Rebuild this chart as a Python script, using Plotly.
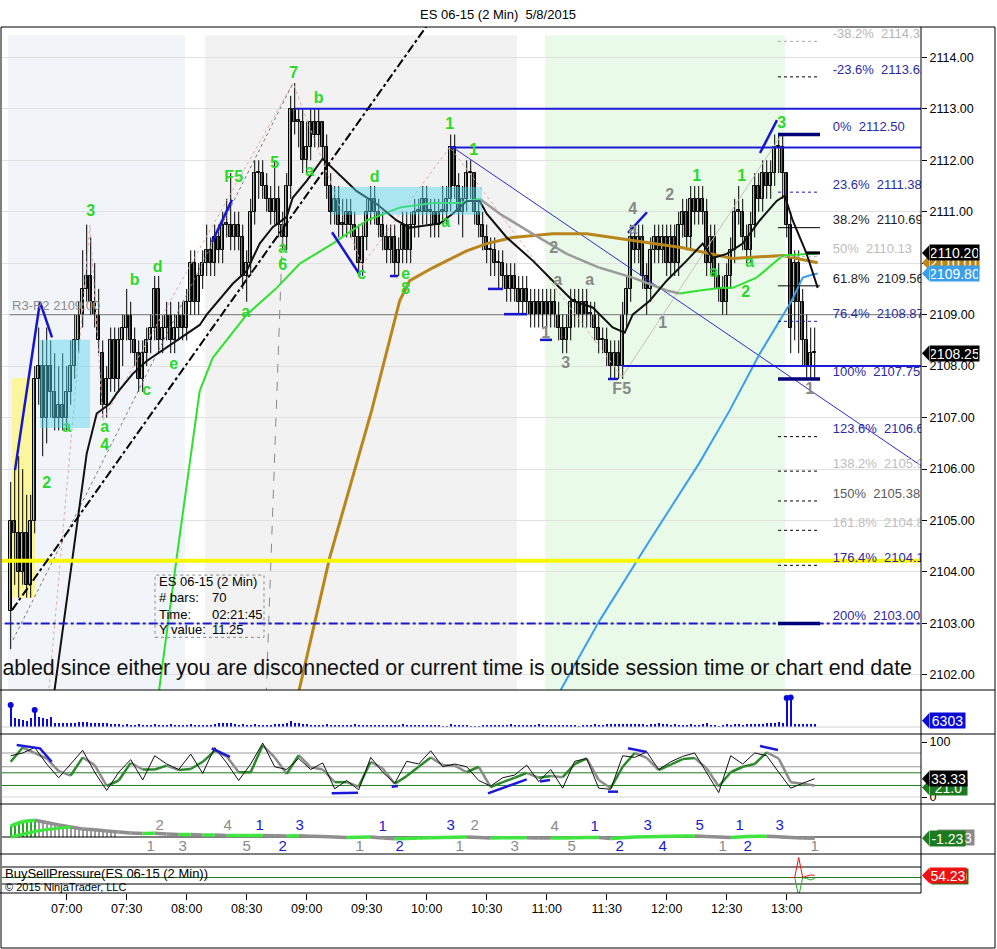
import pandas as pd
import plotly.graph_objects as go
from plotly.subplots import make_subplots

DAY = "2015-05-08 "
FONT = "Liberation Sans, Arial, sans-serif"
NB = "\u00a0"


def ts(s):
    return pd.Timestamp(DAY + s)


def tl(lst):
    return [ts(s) for s in lst]


# ---------------- 2 min bars, ES 06-15 ----------------
opens = [2103.25, 2105.00, 2104.75, 2104.00, 2104.75, 2103.75, 2105.00, 2107.75, 2108.00, 2107.00,
         2108.00, 2107.50, 2107.00, 2107.25, 2107.00, 2107.50, 2108.00, 2108.50, 2109.00, 2109.50,
         2109.75, 2109.25, 2109.00, 2108.25, 2107.25, 2107.75, 2108.50, 2107.75, 2108.50, 2108.75,
         2109.00, 2108.50, 2108.25, 2107.75, 2108.25, 2108.50, 2108.75, 2109.50, 2108.50, 2108.75,
         2109.00, 2108.50, 2108.75, 2109.00, 2108.75, 2109.25, 2110.00, 2109.25, 2109.75, 2110.00,
         2110.25, 2110.00, 2110.50, 2110.25, 2110.75, 2110.75, 2110.50, 2110.75, 2110.50, 2109.75,
         2110.00, 2111.00, 2111.75, 2111.75, 2111.50, 2111.25, 2111.00, 2111.25, 2110.75, 2110.50,
         2111.50, 2113.00, 2112.75, 2112.75, 2112.00, 2112.25, 2112.75, 2112.50, 2112.75, 2112.25,
         2111.50, 2111.00, 2111.25, 2110.75, 2110.75, 2111.00, 2110.75, 2110.50, 2110.00, 2110.50,
         2111.00, 2111.25, 2111.00, 2110.75, 2110.50, 2110.25, 2110.50, 2110.00, 2110.25, 2110.75,
         2110.25, 2110.75, 2111.00, 2111.00, 2111.25, 2111.00, 2111.00, 2110.75, 2111.00, 2111.00,
         2111.25, 2112.25, 2111.50, 2111.00, 2111.25, 2111.75, 2111.75, 2111.00, 2110.75, 2110.50,
         2110.25, 2110.25, 2110.00, 2110.00, 2109.75, 2109.50, 2109.75, 2109.50, 2109.25, 2109.50,
         2109.25, 2109.00, 2109.25, 2109.00, 2109.25, 2109.00, 2109.25, 2109.00, 2108.75, 2108.50,
         2108.75, 2109.25, 2109.25, 2109.00, 2109.25, 2109.00, 2109.00, 2108.75, 2108.50, 2108.50,
         2108.25, 2108.00, 2108.25, 2108.00, 2109.00, 2109.50, 2110.50, 2110.25, 2110.50, 2109.75,
         2109.50, 2110.25, 2110.50, 2110.25, 2110.50, 2110.00, 2110.50, 2110.00, 2110.75, 2111.00,
         2110.50, 2111.25, 2111.00, 2111.25, 2111.00, 2110.00, 2110.50, 2109.75, 2109.50, 2109.25,
         2109.75, 2110.25, 2111.00, 2111.00, 2110.50, 2110.25, 2110.75, 2111.50, 2111.25, 2111.75,
         2111.50, 2111.75, 2112.25, 2112.25, 2111.75, 2110.75, 2109.25, 2110.00, 2109.25, 2108.50,
         2108.00, 2108.25]
highs = [2105.75, 2106.00, 2106.25, 2106.00, 2105.50, 2105.50, 2108.00, 2108.75, 2108.50, 2108.75,
         2108.50, 2108.25, 2108.00, 2108.25, 2108.00, 2108.50, 2109.00, 2109.25, 2110.25, 2110.75,
         2110.50, 2110.00, 2109.50, 2108.50, 2108.00, 2108.75, 2108.75, 2108.75, 2109.00, 2109.50,
         2109.25, 2108.75, 2108.50, 2108.50, 2108.75, 2109.00, 2109.75, 2109.75, 2109.00, 2109.25,
         2109.25, 2109.00, 2109.25, 2109.25, 2109.50, 2110.25, 2110.25, 2110.00, 2110.25, 2110.75,
         2110.50, 2110.75, 2110.75, 2111.00, 2111.25, 2111.75, 2111.00, 2111.00, 2110.75, 2110.25,
         2111.25, 2112.00, 2112.00, 2112.00, 2111.75, 2111.50, 2112.00, 2111.50, 2111.00, 2111.75,
         2113.25, 2113.50, 2113.00, 2113.00, 2112.75, 2113.00, 2113.00, 2113.00, 2112.75, 2112.50,
         2111.75, 2111.50, 2111.50, 2111.25, 2111.25, 2111.25, 2111.00, 2110.75, 2110.75, 2111.25,
         2111.50, 2111.50, 2111.25, 2111.00, 2110.75, 2110.75, 2110.75, 2110.50, 2111.00, 2111.00,
         2111.00, 2111.25, 2111.25, 2111.50, 2111.50, 2111.25, 2111.25, 2111.25, 2111.50, 2111.50,
         2112.50, 2112.50, 2111.75, 2111.50, 2112.00, 2112.00, 2111.75, 2111.25, 2111.00, 2110.75,
         2110.50, 2110.50, 2110.25, 2110.25, 2110.00, 2110.00, 2110.00, 2109.75, 2109.75, 2109.75,
         2109.50, 2109.50, 2109.50, 2109.50, 2109.50, 2109.50, 2109.50, 2109.25, 2109.00, 2109.00,
         2109.50, 2109.50, 2109.50, 2109.50, 2109.50, 2109.25, 2109.25, 2109.00, 2108.75, 2108.75,
         2108.50, 2108.50, 2108.50, 2109.25, 2109.75, 2110.75, 2110.75, 2110.75, 2110.75, 2110.00,
         2110.50, 2110.75, 2110.75, 2110.75, 2110.75, 2110.75, 2110.75, 2111.00, 2111.25, 2111.25,
         2111.50, 2111.50, 2111.50, 2111.50, 2111.25, 2110.75, 2110.75, 2110.00, 2109.75, 2110.00,
         2110.50, 2111.25, 2111.50, 2111.25, 2110.75, 2111.00, 2111.75, 2111.75, 2112.00, 2112.00,
         2112.00, 2112.50, 2112.50, 2112.50, 2111.75, 2111.00, 2110.25, 2110.25, 2109.50, 2109.00,
         2108.75, 2108.75]
lows = [2102.50, 2103.75, 2103.50, 2103.75, 2103.50, 2103.50, 2104.75, 2107.25, 2106.25, 2106.50,
        2107.00, 2106.75, 2106.75, 2106.75, 2106.75, 2107.25, 2107.75, 2108.25, 2108.75, 2109.25,
        2109.00, 2108.75, 2108.25, 2107.00, 2107.00, 2107.50, 2107.50, 2107.50, 2108.00, 2108.50,
        2108.25, 2108.00, 2107.50, 2107.50, 2108.00, 2108.25, 2108.50, 2108.25, 2108.25, 2108.50,
        2108.25, 2108.25, 2108.50, 2108.50, 2108.50, 2109.00, 2109.00, 2109.00, 2109.50, 2109.75,
        2109.75, 2109.75, 2110.00, 2110.00, 2110.50, 2110.25, 2110.25, 2110.25, 2109.50, 2109.25,
        2109.75, 2110.75, 2111.25, 2111.25, 2111.00, 2110.75, 2110.75, 2110.50, 2110.25, 2110.25,
        2111.25, 2112.50, 2112.25, 2111.75, 2111.75, 2112.00, 2112.25, 2112.25, 2112.00, 2111.25,
        2110.75, 2110.75, 2110.50, 2110.50, 2110.50, 2110.50, 2110.25, 2109.75, 2109.75, 2110.25,
        2110.75, 2110.75, 2110.50, 2110.25, 2110.00, 2110.00, 2109.75, 2109.75, 2110.00, 2110.00,
        2110.00, 2110.50, 2110.50, 2110.75, 2110.75, 2110.50, 2110.50, 2110.50, 2110.75, 2110.75,
        2111.00, 2111.25, 2110.75, 2110.50, 2111.00, 2111.25, 2110.75, 2110.50, 2110.25, 2110.00,
        2109.75, 2109.75, 2109.50, 2109.50, 2109.25, 2109.25, 2109.25, 2109.00, 2109.00, 2109.00,
        2108.75, 2108.75, 2108.75, 2108.75, 2108.75, 2108.75, 2108.75, 2108.50, 2108.25, 2108.25,
        2108.50, 2108.75, 2108.75, 2108.75, 2108.75, 2108.75, 2108.50, 2108.25, 2108.25, 2108.00,
        2107.75, 2107.75, 2107.75, 2107.75, 2108.75, 2109.25, 2110.00, 2110.00, 2109.50, 2109.00,
        2109.25, 2110.00, 2110.00, 2110.00, 2109.75, 2109.75, 2109.75, 2109.75, 2110.50, 2110.25,
        2110.25, 2110.75, 2110.75, 2110.75, 2109.75, 2109.75, 2109.50, 2109.25, 2109.00, 2109.00,
        2109.50, 2110.00, 2110.75, 2110.25, 2110.00, 2110.00, 2110.50, 2111.00, 2111.00, 2111.25,
        2111.25, 2111.50, 2111.75, 2111.25, 2110.50, 2108.25, 2108.50, 2108.25, 2108.00, 2107.75,
        2107.75, 2107.75]
closes = [2105.00, 2104.75, 2104.00, 2104.75, 2103.75, 2105.00, 2107.75, 2108.00, 2107.00, 2108.00,
          2107.50, 2107.00, 2107.25, 2107.00, 2107.50, 2108.00, 2108.50, 2109.00, 2109.50, 2109.75,
          2109.25, 2109.00, 2108.50, 2107.25, 2107.75, 2108.50, 2107.75, 2108.50, 2108.75, 2109.00,
          2108.50, 2108.25, 2107.75, 2108.25, 2108.50, 2108.75, 2109.50, 2108.50, 2108.75, 2109.00,
          2108.50, 2108.75, 2109.00, 2108.75, 2109.25, 2110.00, 2109.25, 2109.75, 2110.00, 2110.25,
          2110.00, 2110.50, 2110.25, 2110.75, 2110.75, 2110.50, 2110.75, 2110.50, 2109.75, 2110.00,
          2111.00, 2111.75, 2111.75, 2111.50, 2111.25, 2111.00, 2111.25, 2110.75, 2110.50, 2111.50,
          2113.00, 2112.75, 2112.75, 2112.00, 2112.25, 2112.75, 2112.50, 2112.75, 2112.25, 2111.50,
          2111.00, 2111.25, 2110.75, 2110.75, 2111.00, 2110.75, 2110.50, 2110.00, 2110.50, 2111.00,
          2111.25, 2111.00, 2110.75, 2110.50, 2110.25, 2110.50, 2110.00, 2110.25, 2110.75, 2110.25,
          2110.75, 2111.00, 2111.00, 2111.25, 2111.00, 2111.00, 2110.75, 2111.00, 2111.00, 2111.25,
          2112.25, 2111.50, 2111.00, 2111.25, 2111.75, 2111.75, 2111.00, 2110.75, 2110.50, 2110.25,
          2110.25, 2110.00, 2110.00, 2109.75, 2109.50, 2109.75, 2109.50, 2109.25, 2109.50, 2109.25,
          2109.00, 2109.25, 2109.00, 2109.25, 2109.00, 2109.25, 2109.00, 2108.75, 2108.50, 2108.75,
          2109.25, 2109.25, 2109.00, 2109.25, 2109.00, 2109.00, 2108.75, 2108.50, 2108.50, 2108.25,
          2108.00, 2108.25, 2108.00, 2109.00, 2109.50, 2110.50, 2110.25, 2110.50, 2109.75, 2109.50,
          2110.25, 2110.50, 2110.25, 2110.50, 2110.00, 2110.50, 2110.00, 2110.75, 2111.00, 2110.50,
          2111.25, 2111.00, 2111.25, 2111.00, 2110.00, 2110.50, 2109.75, 2109.50, 2109.25, 2109.75,
          2110.25, 2111.00, 2111.00, 2110.50, 2110.25, 2110.75, 2111.50, 2111.25, 2111.75, 2111.50,
          2111.75, 2112.25, 2112.25, 2111.75, 2110.75, 2108.75, 2110.00, 2109.25, 2108.50, 2108.00,
          2108.25, 2108.25]
volumes = [22000, 8700, 7700, 7000, 6300, 8700, 17000, 10300, 8700, 7700,
           9700, 4300, 4000, 4300, 4000, 4300, 4000, 5300, 5000, 5300,
           4300, 4300, 4000, 4300, 4000, 3000, 2700, 3000, 2500, 2700,
           2300, 2500, 2700, 2300, 2500, 2300, 2700, 2300, 2500, 2300,
           2700, 2300, 2500, 2300, 2300, 2700, 2300, 2500, 2300, 2500,
           2300, 2700, 4000, 4300, 3700, 4000, 2700, 2500, 3000, 2300,
           2500, 2700, 2300, 2500, 2300, 2500, 2700, 3000, 3300, 4300,
           6000, 4300, 4000, 3000, 2700, 2500, 2300, 2500, 2300, 2700,
           2300, 2500, 2300, 2300, 2500, 2300, 2700, 2300, 2500, 2300,
           2300, 2500, 2300, 2300, 2500, 2300, 2300, 2500, 2700, 2300,
           2300, 2500, 2300, 2500, 2300, 2300, 2500, 2300, 1000, 1000,
           3000, 2500, 2300, 2300, 2500, 1000, 1000, 1000, 2500, 2300,
           2300, 2500, 2300, 2300, 2500, 2700, 2300, 2500, 2300, 2500,
           2300, 2300, 2700, 2300, 2500, 2300, 2300, 2500, 2300, 2300,
           2500, 2300, 1000, 2500, 2300, 2300, 2700, 2500, 2300, 3000,
           3300, 2700, 3000, 3300, 3000, 3300, 2700, 3000, 2700, 2500,
           3000, 2700, 4300, 3000, 2700, 2500, 2700, 2300, 2500, 2300,
           2700, 2500, 2300, 3000, 4300, 2500, 2300, 1000, 2500, 2700,
           2300, 3000, 2700, 2500, 3000, 2700, 3300, 3000, 3300, 4300,
           4000, 4300, 5300, 4300, 29000, 29500, 3300, 2700, 3000, 2700,
           3000, 2700]
bar_times = pd.date_range(DAY + "06:32", periods=len(closes), freq="2min")

# ---------------- moving averages ----------------
black_ma_t = ["06:52:30", "07:05", "07:10", "07:15", "07:21:30", "07:25", "07:33", "07:40", "07:53", "08:06:30",
              "08:10", "08:23", "08:30", "08:36:30", "08:43", "08:50", "08:53", "09:00", "09:08", "09:18",
              "09:25", "09:35", "09:45", "09:51:30", "10:06:30", "10:13", "10:20", "10:26:30", "10:30", "10:40",
              "10:53", "11:03", "11:13", "11:23", "11:33", "11:39", "11:43", "11:51:30", "12:00", "12:10",
              "12:18", "12:23", "12:30", "12:38", "12:46:30", "12:55", "12:59", "13:03", "13:10", "13:15:30"]
black_ma_v = [2101.3, 2104.86, 2106.3, 2107.08, 2107.27, 2107.47, 2107.85, 2108.1, 2108.44, 2108.8,
              2109.0, 2109.6, 2109.85, 2110.38, 2110.7, 2110.9, 2111.27, 2111.6, 2112.03, 2111.66,
              2111.4, 2111.15, 2110.83, 2110.69, 2110.77, 2110.96, 2111.21, 2111.21, 2110.96, 2110.5,
              2110.05, 2109.66, 2109.27, 2109.14, 2108.75, 2108.65, 2109.0, 2109.27, 2109.66, 2110.05,
              2110.38, 2110.1, 2110.18, 2110.38, 2110.83, 2111.21, 2111.31, 2110.83, 2110.18, 2109.52]
green_ma_t = ["07:45:30", "07:55", "08:06:30", "08:13", "08:30", "08:45", "08:56:30", "09:13", "09:30",
              "09:46:30", "10:03", "10:16:30", "10:26:30", "10:36:30", "10:53", "11:10", "11:26:30", "11:43",
              "12:00", "12:06:30", "12:16:30", "12:26:30", "12:33", "12:45", "12:58", "13:10", "13:15:30"]
green_ma_v = [2101.5, 2104.28, 2107.52, 2108.16, 2109.0, 2109.52, 2109.99, 2110.38, 2110.83,
              2111.08, 2111.17, 2111.17, 2111.25, 2110.96, 2110.57, 2110.18, 2109.91, 2109.72,
              2109.47, 2109.41, 2109.47, 2109.52, 2109.52, 2109.72, 2110.15, 2110.18, 2110.18]
brown_ma_t = ["08:55", "09:11:30", "09:32:30", "09:46:30", "09:51:30", "10:03", "10:20", "10:30",
              "10:43", "11:03", "11:20", "11:43", "12:08", "12:33", "12:58", "13:15:30"]
brown_ma_v = [2101.5, 2104.28, 2107.14, 2109.27, 2109.66, 2109.91, 2110.24, 2110.38,
              2110.5, 2110.57, 2110.57, 2110.44, 2110.3, 2110.09, 2110.15, 2110.01]
blue_ma_t = ["11:04", "11:26:30", "11:51:30", "12:16:30", "12:31:30", "12:46:30", "13:02:30", "13:08", "13:13", "13:15:30"]
blue_ma_v = [2101.5, 2103.06, 2104.61, 2106.13, 2107.14, 2108.24, 2109.27, 2109.72, 2109.78, 2109.80]

# ---------------- levels ----------------
r3r2_level = 2109.00
yellow_level = 2104.22
dashdot_level = 2103.00
blue_levels = [2113.00, 2112.25, 2108.00]
blue_level_start = ["08:54", "10:11:39", "11:37:39"]
marker_level = 2110.20

fib_pct = ["-38.2%", "-23.6%", "0%", "23.6%", "38.2%", "50%", "61.8%", "76.4%",
           "100%", "123.6%", "138.2%", "150%", "161.8%", "176.4%", "200%"]
fib_price = [2114.31, 2113.62, 2112.50, 2111.38, 2110.69, 2110.13, 2109.56, 2108.87,
             2107.75, 2106.63, 2105.96, 2105.38, 2104.81, 2104.13, 2103.00]

# swing / drawing objects (time, price)
trend_dashdot_t = ["06:32:39", "10:01:39"]
trend_dashdot_p = [2103.26, 2114.70]
trend_blue_t = ["10:12:39", "14:10"]
trend_blue_p = [2112.26, 2105.99]
zigzag_t = ["06:50:39", "07:11:39", "07:18:09", "08:53:09", "09:27:39", "10:11:39", "11:37:39"]
zigzag_p = [2101.51, 2110.74, 2106.95, 2113.50, 2109.96, 2112.26, 2107.79]
gray_leg_t = ["11:37:39", "12:57:39"]
gray_leg_p = [2107.79, 2112.51]
gray_ray_t = ["06:33:09", "08:53:09"]
gray_ray_p = [2102.68, 2113.50]
gray_drop_t = ["08:48:09", "08:39:39"]
gray_drop_p = [2110.84, 2101.51]
swing_segs = [
    (["06:34:09", "06:46:39", "06:52:39"], [2105.98, 2109.25, 2108.56]),
    (["08:12:39", "08:22:39"], [2110.41, 2111.23]),
    (["09:12:39", "09:26:39"], [2110.60, 2109.77]),
    (["11:40:39", "11:50:09"], [2110.59, 2110.99]),
    (["12:46:39", "12:55:09"], [2112.14, 2112.78]),
]
swing_dashes = [
    (["09:41:39", "09:45:39"], 2109.75),
    (["10:30:39", "10:38:09"], 2109.50),
    (["10:38:39", "10:50:09"], 2109.01),
    (["10:56:39", "11:02:39"], 2108.51),
    (["11:30:39", "11:35:39"], 2107.75),
]

green_lab_text = ["3", "2", "a", "a", "4", "b", "c", "d", "e", "F5",
                  "a", "5", "a", "6", "7", "b", "a", "d", "c", "e",
                  "8", "1", "1", "a", "1", "1", "a", "a", "2", "3"]
green_lab_t = ["07:12", "06:50", "07:00", "07:19", "07:19", "07:34", "07:40", "07:45:30", "07:53:30", "08:23:30",
               "08:29:30", "08:44", "08:48", "08:48", "08:53:30", "09:06", "09:01:30", "09:34", "09:27:30", "09:49:30",
               "09:49:30", "10:11:30", "10:23:30", "10:09:30", "12:15", "12:37:30", "12:23:30", "12:41:30", "12:39:30", "12:57:30"]
green_lab_p = [2111.0, 2105.7, 2106.8, 2106.8, 2106.45, 2109.65, 2107.52, 2109.9, 2108.03, 2111.66,
               2109.04, 2111.93, 2110.28, 2109.95, 2113.68, 2113.19, 2111.78, 2111.66, 2109.78, 2109.78,
               2109.47, 2112.69, 2112.18, 2110.79, 2111.68, 2111.68, 2109.8, 2110.01, 2109.43, 2112.71]
gray_lab_text = ["2", "a", "a", "1", "3", "F5", "4", "a", "2", "1", "1"]
gray_lab_t = ["11:03:30", "11:05:30", "11:21:30", "10:59:30", "11:09:30", "11:37:30", "11:43", "11:43", "12:01:30", "11:58", "13:11:30"]
gray_lab_p = [2110.28, 2109.66, 2109.66, 2108.63, 2108.05, 2107.54, 2111.04, 2110.65, 2111.31, 2108.81, 2107.54]

# ---------------- stochastics (every 3rd bar) ----------------
stoch_d = [64, 90, 80, 70, 47, 39, 72, 58, 20, 30,
           62, 50, 50, 57, 49, 51, 64, 84, 74, 45,
           45, 94, 72, 42, 76, 54, 50, 27, 27, 19,
           64, 52, 24, 38, 55, 72, 58, 57, 45, 55,
           18, 27, 35, 44, 35, 38, 36, 60, 70, 31,
           16, 55, 80, 71, 49, 59, 69, 71, 52, 19,
           45, 55, 60, 81, 70, 27, 24, 21.04]
stoch_k = [75, 80, 90, 60, 35, 60, 85, 45, 12, 45,
           68, 31, 75, 60, 50, 78, 43, 90, 62, 30,
           60, 98, 55, 50, 70, 50, 62, 15, 30, 13,
           72, 45, 25, 65, 60, 84, 55, 60, 55, 30,
           20, 35, 40, 58, 28, 50, 16, 65, 70, 16,
           14, 75, 72, 82, 50, 64, 74, 80, 45, 8,
           75, 60, 80, 75, 45, 16, 25, 33.33]
stoch_times = pd.date_range(DAY + "06:32", periods=len(stoch_d), freq="6min")
stoch_levels_gray = [80, 55]
stoch_levels_green = [44, 21]
stoch_div = [
    (["06:35", "06:46:39", "06:52:30"], [94.5, 88.5, 64]),
    (["08:12:30", "08:21:39"], [88.5, 73]),
    (["09:12:30", "09:25:39"], [6.7, 7.9]),
    (["09:42:30", "09:45:39"], [18.8, 20]),
    (["10:30:39", "10:50"], [6.7, 32]),
    (["10:56:39", "11:01:39"], [28, 31]),
    (["11:30:39", "11:35:39"], [9.7, 9.7]),
    (["11:40:39", "11:50"], [88.5, 82]),
    (["12:46:39", "12:55:39"], [92.7, 85.5]),
]

# ---------------- oscillator panel ----------------
osc_line = [11, 15.5, 16.8, 14.5, 12, 10, 8, 7.2, 6, 5,
            4, 3.5, 3.8, 3, 2.5, 2.5, 2, 2, 1.5, 1.5,
            1.5, 1.5, 1.3, 1.0, 1.3, 0.8, 0.5, 0, -0.5, -0.3,
            -0.1, -1.0, -1.7, -1.5, -1, -0.7, -0.5, -0.3, 0, -0.5,
            -1, -0.8, -0.7, -0.7, -0.9, -1, -0.9, -0.7, -0.5, -0.4,
            -1.4, -0.8, 0, 0.3, 0.5, 0.7, 1, 1, 0.5, 0,
            -0.5, 0.3, 0.7, 0.8, 0.3, -0.5, -1, -1.23]
osc_green_early = [0, 3, 5.5, 7.5, 9, 10]
osc_hist = [11, 12.5, 14, 15.5, 16, 16.5, 16.8, 16.5, 16, 14.5, 13.5, 12.8, 12,
            11.3, 10.6, 10, 9.3, 8.6, 8, 7.7, 7.4, 7.2, 6.8, 6.4, 6, 5.7, 5.4]
osc_blue_text = ["1", "3", "1", "3", "1", "3", "5", "1", "3", "2", "2", "2", "4", "2"]
osc_blue_t = ["08:36:30", "08:56:30", "09:38", "10:12", "11:24", "11:50:30", "12:16:30", "12:36:30", "12:56:30",
              "08:48", "09:46:30", "11:36:30", "11:58", "12:40:30"]
osc_blue_v = [11, 11, 10, 11, 10, 11, 11, 11, 11, -10, -10, -10, -10, -10]
osc_gray_text = ["2", "4", "2", "4", "1", "3", "5", "1", "1", "3", "5", "1", "1"]
osc_gray_t = ["07:46:30", "08:20:30", "10:24", "11:04", "07:42", "07:58", "08:30", "09:26:30", "10:16:30",
              "10:44", "11:12:30", "12:28", "13:14"]
osc_gray_v = [11, 11, 11, 10, -10, -10, -10, -10, -10, -10, -10, -10, -10]

# ---------------- buy/sell pressure ----------------
bsp_t = ["13:02", "13:04", "13:06", "13:08", "13:10", "13:12", "13:14"]
bsp_buy = [50, 50, 12, 50, 48, 45, 48]
bsp_sell = [50, 50, 90, 50, 53, 55, 54.23]

# ---------------- layout geometry ----------------
L, T, PW, PH = 2, 27, 919, 866
HEIGHTS = [663, 44, 70, 50, 39]
DOM, acc = {}, 0
for r in range(5, 0, -1):
    DOM[r] = (acc / PH, (acc + HEIGHTS[r - 1]) / PH)
    acc += HEIGHTS[r - 1]
RNG = {1: (2101.707, 2114.589), 2: (-7000, 37000), 3: (-12.73, 114.55), 4: (-17, 33), 5: (19, 97)}
XR = [ts("06:27:39"), ts("14:07:09")]
XEND = ts("14:10")


def pxx(p):
    return (p - L) / PW


def pxy(p):
    return (T + PH - p) / PH


def val_py(v, row):
    d, r = DOM[row], RNG[row]
    frac = d[0] + (v - r[0]) / (r[1] - r[0]) * (d[1] - d[0])
    return T + PH * (1 - frac)


def split_slope(xs, ys):
    ux, uy, dx, dy = [], [], [], []
    for a in range(len(xs) - 1):
        if ys[a + 1] >= ys[a]:
            ux += [xs[a], xs[a + 1], None]
            uy += [ys[a], ys[a + 1], None]
        else:
            dx += [xs[a], xs[a + 1], None]
            dy += [ys[a], ys[a + 1], None]
    return ux, uy, dx, dy


fig = make_subplots(rows=5, cols=1, shared_xaxes=True, vertical_spacing=0, row_heights=HEIGHTS)


def line(x, y, color, width=1, dash="solid", row=1):
    fig.add_trace(go.Scatter(x=x, y=y, mode="lines", line=dict(color=color, width=width, dash=dash),
                             hoverinfo="skip"), row=row, col=1)


# gray R3-R2 level behind candles
line([ts("06:31:30"), XEND], [r3r2_level] * 2, "#8c8c8c", 1.2)

# candles: wicks, then bodies as floating bars
wx, wy = [], []
for t, h, lo in zip(bar_times, highs, lows):
    wx += [t, t, None]
    wy += [lo, h, None]
line(wx, wy, "#000000", 1)
for up, fill in [(True, "#9ade9a"), (False, "#737373")]:
    sel = [a for a in range(len(closes)) if (closes[a] > opens[a]) == up]
    fig.add_trace(go.Bar(
        x=[bar_times[a] for a in sel],
        y=[max(abs(closes[a] - opens[a]), 0.03) for a in sel],
        base=[min(opens[a], closes[a]) for a in sel],
        width=96000, marker=dict(color=fill, line=dict(color="#000000", width=1)),
        hoverinfo="skip"), row=1, col=1)

# thin zig-zag drawings
line(tl(zigzag_t), zigzag_p, "#e3a9a9", 1, "dot")
line(tl(gray_leg_t), gray_leg_p, "#c8bfb5", 1)
line(tl(gray_ray_t), gray_ray_p, "#777777", 1, "dot")
line(tl(gray_drop_t), gray_drop_p, "#8a8a8a", 1, "dash")
line(tl(trend_blue_t), trend_blue_p, "#2b2bd0", 1)

# moving averages
line(tl(blue_ma_t), blue_ma_v, "#3a9ee8", 2)
line(tl(brown_ma_t), brown_ma_v, "#b8861b", 3)
gx, gy, dx_, dy_ = split_slope(tl(green_ma_t), green_ma_v)
line(dx_, dy_, "#9a9a9a", 2.5)
line(gx, gy, "#2fe02f", 2)
line(tl(black_ma_t), black_ma_v, "#111111", 2)

# horizontal levels
for lv, st in zip(blue_levels, blue_level_start):
    line([ts(st), XEND], [lv, lv], "#1c1cd8", 2)
line([ts("06:20"), XEND], [yellow_level] * 2, "#f7f700", 4)
line([ts("06:20"), XEND], [dashdot_level] * 2, "#1a1ac8", 2, "dashdot")
line(tl(trend_dashdot_t), trend_dashdot_p, "#000000", 2, "dashdot")

for st, pp in swing_segs:
    line(tl(st), pp, "#1616d0", 2.5)
for st, lv in swing_dashes:
    line(tl(st), [lv, lv], "#1616d0", 2.5)

# fibonacci segments + labels
fib_x = [ts("12:55:39"), ts("13:16:39")]
seg_style = {"0%": ("#00007a", 3.5, "solid"), "100%": ("#00007a", 3.5, "solid"), "200%": ("#00007a", 3.5, "solid"),
             "38.2%": ("#000000", 1, "solid"), "61.8%": ("#000000", 1, "solid"),
             "23.6%": ("#1a1aa0", 1, "dot"), "76.4%": ("#1a1aa0", 1, "dot"),
             "-38.2%": ("#aaaaaa", 1, "dot"), "50%": ("#bbbbbb", 1, "dot")}
txt_col = {"-38.2%": "#b5b5b5", "50%": "#bdbdbd", "138.2%": "#bdbdbd", "161.8%": "#bdbdbd",
           "38.2%": "#1e1e1e", "61.8%": "#1e1e1e", "150%": "#5a5a5a"}
for pc, pr in zip(fib_pct, fib_price):
    c, w, d = seg_style.get(pc, ("#000000", 1, "dot"))
    line(fib_x, [pr, pr], c, w, d)
line([ts("13:10"), ts("13:16:39")], [marker_level] * 2, "#000000", 3)
fig.add_trace(go.Scatter(
    x=[ts("13:23")] * len(fib_pct), y=fib_price, mode="text",
    text=[f"{pc}{NB}{NB}{pr:.2f}" for pc, pr in zip(fib_pct, fib_price)],
    textposition="top right", cliponaxis=True, hoverinfo="skip",
    textfont=dict(family=FONT, size=13, color=[txt_col.get(pc, "#2a2aa0") for pc in fib_pct])), row=1, col=1)

# wave labels
fig.add_trace(go.Scatter(x=tl(green_lab_t), y=green_lab_p, mode="text", text=green_lab_text,
                         textfont=dict(family=FONT, size=16, color="#2bd92b"), hoverinfo="skip",
                         texttemplate="<b>%{text}</b>"), row=1, col=1)
fig.add_trace(go.Scatter(x=tl(gray_lab_t), y=gray_lab_p, mode="text", text=gray_lab_text,
                         textfont=dict(family=FONT, size=16, color="#888888"), hoverinfo="skip",
                         texttemplate="<b>%{text}</b>"), row=1, col=1)
fig.add_trace(go.Scatter(x=[ts("06:32:39")], y=[2109.16], mode="text", text=["R3-R2 2109.00"],
                         textposition="middle right", hoverinfo="skip",
                         textfont=dict(family=FONT, size=13, color="#8c8c8c")), row=1, col=1)
fig.add_trace(go.Scatter(
    x=[ts("14:02:39")], y=[2102.11], mode="text", cliponaxis=True, hoverinfo="skip",
    text=["Order entry is disabled since either you are disconnected or current time is outside session time or chart end date"],
    textposition="middle left", textfont=dict(family=FONT, size=21.4, color="#111111")), row=1, col=1)

# ---------------- volume ----------------
line([XR[0], XEND], [0, 0], "#d0d0d0", 1, row=2)
fig.add_trace(go.Bar(x=bar_times, y=volumes, marker_color="#0a0ad8", marker_line_width=0,
                     width=40000, hoverinfo="skip"), row=2, col=1)
big = [(t, v) for t, v in zip(bar_times, volumes) if v > 15000]
fig.add_trace(go.Scatter(x=[b[0] for b in big], y=[b[1] for b in big], mode="markers",
                         marker=dict(color="#0a0ad8", size=6), hoverinfo="skip"), row=2, col=1)

# ---------------- stochastics ----------------
for lv in stoch_levels_gray:
    line([XR[0], XEND], [lv, lv], "#9a9a9a", 1, row=3)
for lv in stoch_levels_green:
    line([XR[0], XEND], [lv, lv], "#1e7a1e", 1, row=3)
line([XR[0], XEND], [0, 0], "#d4d4d4", 1, row=3)
ux, uy, dx2, dy2 = split_slope(list(stoch_times), stoch_d)
line(dx2, dy2, "#8c8c8c", 2.5, row=3)
line(ux, uy, "#2a8a2a", 2.5, row=3)
line(list(stoch_times), stoch_k, "#111111", 1, row=3)
for st, vv in stoch_div:
    line(tl(st), vv, "#1a1ad8", 2.5, row=3)

# ---------------- oscillator ----------------
line([XR[0], XEND], [0, 0], "#000000", 1, row=4)
hist_t = bar_times[:len(osc_hist)]
fig.add_trace(go.Bar(x=hist_t, y=osc_hist, width=40000, marker_line_width=0, hoverinfo="skip",
                     marker_color=["#27a827" if a < 7 else "#9a9a9a" for a in range(len(osc_hist))]),
              row=4, col=1)
ux, uy, dx3, dy3 = split_slope(list(stoch_times), osc_line)
line(dx3, dy3, "#8e8e8e", 3.5, row=4)
line(ux, uy, "#3ce63c", 3.5, row=4)
line(list(stoch_times[:len(osc_green_early)]), osc_green_early, "#3ce63c", 3, row=4)
fig.add_trace(go.Scatter(x=tl(osc_blue_t), y=osc_blue_v, mode="text", text=osc_blue_text, cliponaxis=True,
                         textfont=dict(family=FONT, size=15, color="#1a1acc"), hoverinfo="skip"), row=4, col=1)
fig.add_trace(go.Scatter(x=tl(osc_gray_t), y=osc_gray_v, mode="text", text=osc_gray_text, cliponaxis=True,
                         textfont=dict(family=FONT, size=15, color="#8a8a8a"), hoverinfo="skip"), row=4, col=1)

# ---------------- buy / sell pressure ----------------
for lv, c in [(71, "#000000"), (37, "#000000"), (50, "#1e7a1e")]:
    line([XR[0], XEND], [lv, lv], c, 1, row=5)
line(tl(bsp_t), bsp_buy, "#22aa22", 1, row=5)
line(tl(bsp_t), bsp_sell, "#ee1111", 1, row=5)

# ---------------- shapes ----------------
shapes = []
for a, b, col in [("06:30:39", "07:59:09", "#f1f4f9"), ("08:09:09", "10:45:09", "#f2f2f2"),
                  ("10:59:09", "12:59:09", "#e9fae9")]:
    shapes.append(dict(type="rect", xref="x", yref="y", x0=ts(a), x1=ts(b), y0=RNG[1][0], y1=2114.43,
                       fillcolor=col, line_width=0, layer="below"))
shapes.append(dict(type="rect", xref="x", yref="y", x0=ts("06:32:39"), x1=ts("06:44:09"), y0=2103.50,
                   y1=2107.77, fillcolor="#fbf59c", line_width=0, layer="between"))
for a, b, y0, y1 in [("06:46:39", "07:11:39", 2106.80, 2108.51), ("09:12:39", "10:27:39", 2110.94, 2111.48)]:
    shapes.append(dict(type="rect", xref="x", yref="y", x0=ts(a), x1=ts(b), y0=y0, y1=y1,
                       fillcolor="#55d5ee", opacity=0.45, line_width=0, layer="above"))
shapes.append(dict(type="rect", xref="x", yref="y", x0=ts("07:44:09"), x1=ts("08:38:39"), y0=2102.73,
                   y1=2103.94, line=dict(color="#8a8a8a", width=1, dash="dot"), layer="above"))
# panel frame
for yy in [690, 734, 804, 854]:
    shapes.append(dict(type="line", xref="paper", yref="paper", x0=pxx(0), x1=pxx(995), y0=pxy(yy), y1=pxy(yy),
                       line=dict(color="#000000", width=1)))
shapes.append(dict(type="line", xref="paper", yref="paper", x0=pxx(0), x1=1, y0=0, y1=0,
                   line=dict(color="#000000", width=1)))
shapes.append(dict(type="line", xref="paper", yref="paper", x0=1, x1=1, y0=0, y1=1,
                   line=dict(color="#000000", width=1)))
shapes.append(dict(type="rect", xref="paper", yref="paper", x0=pxx(1), x1=pxx(995), y0=pxy(948), y1=1,
                   line=dict(color="#000000", width=1)))

annotations = []


def value_box(v, row, text, fill, x0=922, x1=978, dy=0, tcolor="#ffffff"):
    yc = val_py(v, row) + dy
    hh = 7.5
    shapes.append(dict(type="path", xref="paper", yref="paper", fillcolor=fill, line_width=0,
                       path=f"M {pxx(x0)},{pxy(yc)} L {pxx(x0 + 7)},{pxy(yc - hh)} L {pxx(x0 + 7)},{pxy(yc + hh)} Z"))
    annotations.append(dict(xref="paper", yref="paper", x=pxx(x0 + 7), y=pxy(yc), xanchor="left", yanchor="middle",
                            text=text, showarrow=False, bgcolor=fill, width=x1 - x0 - 9, height=13, borderpad=1,
                            font=dict(family=FONT, size=14, color=tcolor), align="center"))


value_box(brown_ma_v[-1], 1, f"{brown_ma_v[-1]:.2f}", "#b8861b")
value_box(blue_ma_v[-1], 1, f"{blue_ma_v[-1]:.2f}", "#3a9ee8")
value_box(marker_level, 1, f"{marker_level:.2f}", "#000000")
value_box(closes[-1], 1, f"{closes[-1]:.2f}", "#000000")
value_box(6303, 2, "6303", "#0a0ad8", x1=964)
value_box(stoch_d[-1], 3, f"{stoch_d[-1]:.1f}", "#1e7a1e", x1=966, dy=2)
value_box(stoch_k[-1], 3, f"{stoch_k[-1]:.2f}", "#000000", x1=966)
value_box(osc_line[-1] + 0.5, 4, f"{osc_line[-1] + 0.1:.2f}", "#8a8a8a", x0=930, x1=973)
value_box(osc_line[-1], 4, f"{osc_line[-1]:.2f}", "#1e7a1e", x1=964)
value_box(bsp_sell[-1] - 1.5, 5, f"{bsp_buy[-1]:.2f}", "#1e7a1e", x0=924, x1=967)
value_box(bsp_sell[-1], 5, f"{bsp_sell[-1]:.2f}", "#ee1111", x1=965)

annotations += [
    dict(xref="paper", yref="paper", x=pxx(498), y=pxy(14), text=f"ES 06-15 (2 Min){NB}{NB}5/8/2015",
         showarrow=False, font=dict(family=FONT, size=13, color="#000000"), xanchor="center", yanchor="middle"),
    dict(xref="paper", yref="paper", x=pxx(3), y=pxy(873), text="BuySellPressure(ES 06-15 (2 Min))", showarrow=False,
         font=dict(family=FONT, size=13, color="#000000"), xanchor="left", yanchor="middle"),
    dict(xref="paper", yref="paper", x=pxx(3), y=pxy(887), text="© 2015 NinjaTrader, LLC", showarrow=False,
         font=dict(family=FONT, size=11, color="#000000"), xanchor="left", yanchor="middle"),
]
for txt, yv in [("ES 06-15 (2 Min)", 2103.81), ("# bars:", 2103.50), ("Time:", 2103.18), ("Y value:", 2102.89)]:
    annotations.append(dict(xref="x", yref="y", x=ts("07:45:09"), y=yv, text=txt, showarrow=False, xanchor="left",
                            yanchor="middle", font=dict(family=FONT, size=13, color="#000000")))
for txt, yv in [("70", 2103.50), ("02:21:45", 2103.18), ("11.25", 2102.89)]:
    annotations.append(dict(xref="x", yref="y", x=ts("08:11:39"), y=yv, text=txt, showarrow=False, xanchor="left",
                            yanchor="middle", font=dict(family=FONT, size=13, color="#000000")))

# ---------------- axes ----------------
fig.update_layout(
    width=997, height=949, margin=dict(l=L, r=997 - L - PW, t=T, b=949 - T - PH),
    paper_bgcolor="#ffffff", plot_bgcolor="#ffffff", showlegend=False, bargap=0, barmode="overlay",
    shapes=shapes, annotations=annotations, hovermode=False,
    font=dict(family=FONT, size=12, color="#000000"),
)
for r in range(1, 6):
    fig.update_xaxes(range=XR, showgrid=False, zeroline=False, showticklabels=False, ticks="",
                     rangeslider_visible=False, row=r, col=1)
    fig.update_yaxes(domain=list(DOM[r]), range=list(RNG[r]), side="right", showgrid=False, zeroline=False,
                     showticklabels=False, ticks="", fixedrange=True, row=r, col=1)
fig.update_yaxes(showgrid=True, gridcolor="#e0e0e0", gridwidth=1, showticklabels=True, ticks="outside",
                 ticklen=5, tickcolor="#000000", tickvals=list(range(2102, 2115)),
                 ticktext=[f"{v:.2f}" for v in range(2102, 2115)], tickfont=dict(size=12.5, family=FONT),
                 row=1, col=1)
fig.update_yaxes(showticklabels=True, ticks="outside", ticklen=5, tickcolor="#000000", tickvals=[0, 100],
                 tickfont=dict(size=12.5, family=FONT), row=3, col=1)
fig.update_xaxes(showticklabels=True, ticks="outside", ticklen=6, tickcolor="#000000",
                 tickvals=list(pd.date_range(DAY + "07:00", DAY + "13:00", freq="30min")),
                 tickformat="%H:%M", tickfont=dict(size=12.5, family=FONT), ticklabelstandoff=-2, row=5, col=1)

fig.write_html("out.html", config={"displayModeBar": False},
               post_script="document.body.style.margin='0';document.body.style.overflow='hidden';")
